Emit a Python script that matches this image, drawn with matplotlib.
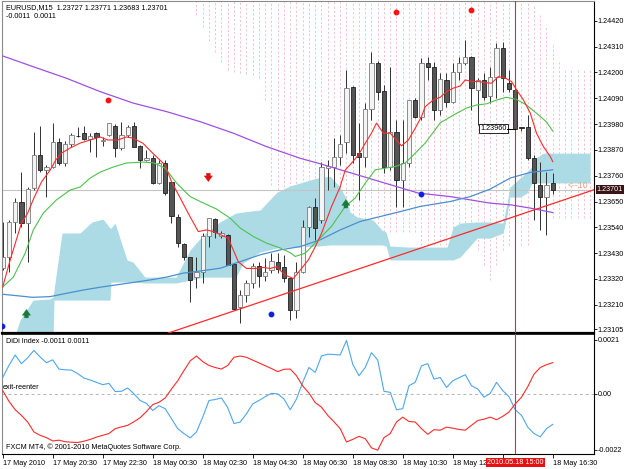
import numpy as np
import matplotlib.pyplot as plt
from matplotlib.patches import Rectangle
from matplotlib.transforms import blended_transform_factory

plt.rcParams['font.family'] = ['Liberation Sans', 'DejaVu Sans']

# ---------------- data (EURUSD M15, 17 May 2010 18:30 .. 18 May 16:30) ----------------
opens = [1.23367, 1.23413, 1.23563, 1.23648, 1.23558, 1.23707, 1.23848, 1.23784, 1.23797, 1.23903,
         1.23814, 1.23895, 1.23929, 1.23942, 1.23916, 1.23942, 1.23908, 1.23933, 1.23971, 1.23878,
         1.23933, 1.23971, 1.23886, 1.23827, 1.23835, 1.23729, 1.23814, 1.23733, 1.23584, 1.23469,
         1.23413, 1.23328, 1.23350, 1.23503, 1.23575, 1.23503, 1.23507, 1.23384, 1.23200, 1.23252,
         1.23303, 1.23375, 1.23332, 1.23358, 1.23392, 1.23371, 1.23324, 1.23188, 1.23350, 1.23541,
         1.23626, 1.23571, 1.23792, 1.23797, 1.23839, 1.23903, 1.24138, 1.23856, 1.23839, 1.24044,
         1.24240, 1.24121, 1.23797, 1.23946, 1.23741, 1.23814, 1.24082, 1.24010, 1.24240, 1.24223,
         1.24040, 1.24167, 1.24074, 1.24201, 1.24240, 1.24265, 1.24125, 1.24167, 1.24099, 1.24180,
         1.24304, 1.24155, 1.24125, 1.23967, 1.23967, 1.23835, 1.23720, 1.23669, 1.23727]
highs = [1.23563, 1.23571, 1.23665, 1.23775, 1.23712, 1.23946, 1.23971, 1.23805, 1.23984, 1.23920,
         1.23908, 1.23942, 1.23967, 1.23971, 1.23942, 1.23946, 1.23925, 1.23984, 1.23980, 1.23989,
         1.23976, 1.23989, 1.23891, 1.23869, 1.23848, 1.23827, 1.23827, 1.23737, 1.23597, 1.23473,
         1.23413, 1.23413, 1.23516, 1.23580, 1.23580, 1.23524, 1.23511, 1.23384, 1.23273, 1.23315,
         1.23388, 1.23392, 1.23409, 1.23430, 1.23430, 1.23422, 1.23324, 1.23392, 1.23571, 1.23631,
         1.23665, 1.23818, 1.23827, 1.23920, 1.23933, 1.24210, 1.24142, 1.23984, 1.24069, 1.24287,
         1.24248, 1.24146, 1.24223, 1.23997, 1.23997, 1.24082, 1.24091, 1.24261, 1.24265, 1.24244,
         1.24197, 1.24197, 1.24240, 1.24265, 1.24338, 1.24270, 1.24176, 1.24197, 1.24223, 1.24325,
         1.24329, 1.24210, 1.24133, 1.23967, 1.24018, 1.23848, 1.23818, 1.23775, 1.23771]
lows = [1.23358, 1.23350, 1.23516, 1.23541, 1.23392, 1.23699, 1.23775, 1.23669, 1.23792, 1.23805,
        1.23801, 1.23882, 1.23925, 1.23912, 1.23861, 1.23839, 1.23886, 1.23929, 1.23839, 1.23869,
        1.23925, 1.23882, 1.23792, 1.23822, 1.23724, 1.23724, 1.23678, 1.23560, 1.23456, 1.23401,
        1.23222, 1.23281, 1.23303, 1.23456, 1.23494, 1.23494, 1.23379, 1.23188, 1.23132, 1.23222,
        1.23281, 1.23286, 1.23311, 1.23345, 1.23345, 1.23307, 1.23145, 1.23154, 1.23345, 1.23499,
        1.23486, 1.23558, 1.23699, 1.23712, 1.23805, 1.23856, 1.23814, 1.23656, 1.23797, 1.23997,
        1.24082, 1.23771, 1.23784, 1.23626, 1.23626, 1.23797, 1.24006, 1.23997, 1.24167, 1.23997,
        1.24018, 1.24052, 1.24069, 1.24167, 1.24231, 1.24040, 1.23976, 1.24082, 1.24069, 1.24091,
        1.24116, 1.24116, 1.23955, 1.23950, 1.23827, 1.23571, 1.23528, 1.23507, 1.23683]
closes = [1.23413, 1.23563, 1.23648, 1.23558, 1.23703, 1.23848, 1.23784, 1.23797, 1.23903, 1.23814,
          1.23895, 1.23933, 1.23927, 1.23916, 1.23929, 1.23925, 1.23912, 1.23984, 1.23878, 1.23933,
          1.23967, 1.23882, 1.23827, 1.23835, 1.23729, 1.23814, 1.23686, 1.23588, 1.23473, 1.23413,
          1.23315, 1.23350, 1.23503, 1.23580, 1.23520, 1.23516, 1.23379, 1.23192, 1.23252, 1.23303,
          1.23375, 1.23332, 1.23350, 1.23396, 1.23362, 1.23324, 1.23188, 1.23350, 1.23541, 1.23626,
          1.23537, 1.23797, 1.23801, 1.23839, 1.23895, 1.24133, 1.23848, 1.23839, 1.24044, 1.24240,
          1.24116, 1.23797, 1.23946, 1.23741, 1.23814, 1.24082, 1.24010, 1.24240, 1.24223, 1.24040,
          1.24172, 1.24074, 1.24201, 1.24240, 1.24265, 1.24133, 1.24167, 1.24095, 1.24180, 1.24304,
          1.24176, 1.24129, 1.23960, 1.23963, 1.23835, 1.23729, 1.23669, 1.23720, 1.23701]

# moving averages (bar position, price)
red_ma_bar = [0, 1.2, 3, 4, 5, 6.2, 7.6, 8.5, 9.4, 10.8, 12.4, 14, 15.6, 16.8, 18.4, 19.8, 20.8, 22.4,
              24, 26, 27, 28.4, 30, 31.3, 32.6, 33.7, 35, 36.1, 36.9, 37.7, 39, 40.4, 41.7, 42.8, 43.8,
              45.2, 46.5, 48.9, 50, 51, 52.6, 54, 54.8, 55.8, 56.9, 58, 59, 59.8, 60.9, 62, 63.8, 64.9,
              66, 67, 67.6, 68.9, 70, 71, 72.1, 73.2, 74, 75, 76.1, 77.2, 78.2, 79.3, 80.4, 81.4, 82.2,
              83.3, 84.4, 85.4, 86.5, 87.6, 88]
red_ma_val = [1.23286, 1.23401, 1.23558, 1.23601, 1.23665, 1.23733, 1.23784, 1.23827, 1.23856, 1.23878,
              1.23899, 1.23912, 1.23925, 1.23912, 1.23912, 1.23925, 1.23920, 1.23899, 1.23856, 1.23805,
              1.23735, 1.23665, 1.23584, 1.23522, 1.23529, 1.23522, 1.23507, 1.23493, 1.23443, 1.23393,
              1.23365, 1.23365, 1.23369, 1.23365, 1.23372, 1.23337, 1.23322, 1.23401, 1.23457, 1.23514,
              1.23628, 1.23713, 1.23784, 1.23813, 1.23848, 1.23898, 1.23941, 1.23984, 1.23941, 1.23941,
              1.23887, 1.23912, 1.23962, 1.24012, 1.24054, 1.24083, 1.24094, 1.24118, 1.24133, 1.24142,
              1.24168, 1.24161, 1.24161, 1.24156, 1.24154, 1.24182, 1.24176, 1.24161, 1.24126, 1.24083,
              1.24027, 1.23941, 1.23884, 1.23842, 1.23820]
green_ma_bar = [0, 1.7, 3.6, 4.9, 6.5, 8.6, 10.8, 12.4, 14, 15.6, 17.7, 19.8, 22.5, 24.1, 26, 27.8, 30,
                31.6, 34.2, 36.4, 38, 40.1, 42.2, 44.4, 46, 46.8, 48.4, 50.5, 52.6, 54.8, 56.4, 58, 59.6,
                61.2, 62.8, 64.4, 66, 67.6, 70, 72.1, 74.2, 75.8, 77.4, 79, 80.6, 82.2, 83.8, 85.4, 87, 88]
green_ma_val = [1.23286, 1.23328, 1.23430, 1.23529, 1.23601, 1.23657, 1.23699, 1.23712, 1.23750, 1.23775,
                1.23797, 1.23814, 1.23818, 1.23815, 1.23792, 1.23729, 1.23671, 1.23650, 1.23618, 1.23579,
                1.23537, 1.23501, 1.23473, 1.23452, 1.23432, 1.23416, 1.23430, 1.23487, 1.23544, 1.23629,
                1.23665, 1.23728, 1.23785, 1.23792, 1.23799, 1.23814, 1.23856, 1.23899, 1.23985, 1.24018,
                1.24048, 1.24061, 1.24066, 1.24082, 1.24094, 1.24085, 1.24061, 1.24026, 1.23989, 1.23950]
blue_ma_bar = [0, 4.8, 7.6, 10.2, 12.9, 15.6, 18.2, 20.8, 23.6, 26.2, 28.9, 31.6, 34.8, 38, 41.2, 44.4,
               47.6, 50.8, 54, 57.2, 60.4, 63.6, 66.8, 71.6, 74.8, 78, 81.2, 84.4, 88]
blue_ma_val = [1.23255, 1.23242, 1.23245, 1.23259, 1.23273, 1.23285, 1.23295, 1.23305, 1.23316, 1.23328,
               1.23345, 1.23354, 1.23366, 1.23394, 1.23423, 1.23444, 1.23458, 1.23487, 1.23529, 1.23565,
               1.23586, 1.23607, 1.23629, 1.23650, 1.23671, 1.23703, 1.23750, 1.23774, 1.23785]
purple_ma_bar = [0, 4.9, 10.2, 15.6, 20.9, 26.2, 31.6, 36.9, 42.2, 47.6, 50.5, 55.8, 61.2, 66.5, 71.6,
                 74.8, 78, 81.2, 84.4, 88]
purple_ma_val = [1.24270, 1.24224, 1.24175, 1.24118, 1.24069, 1.24033, 1.23990, 1.23941, 1.23884, 1.23834,
                 1.23813, 1.23771, 1.23728, 1.23686, 1.23671, 1.23657, 1.23643, 1.23636, 1.23622, 1.23603]

# trend line anchors
trend_bars = [37, 88]
trend_prices = [1.23184, 1.23641]

# blue cloud outline (bar position, upper, lower)
cloud_bar = [1.97, 2.77, 4.85, 7.57, 8.05, 8.21, 9.49, 12.37, 14.29, 16.05, 17.17, 17.33, 17.97, 19.89,
             20.85, 22.77, 27.73, 29.97, 32.05, 34.77, 37.33, 38.45, 41.17, 43.89, 45.97, 47.57, 50.29,
             52.37, 53.97, 55.09, 55.57, 56.69, 59.25, 60.69, 61.33, 61.97, 65.17, 71.09, 72.05, 73.17,
             75.89, 77.97, 80.05, 80.69, 81.17, 82.77, 83.89, 84.85, 85.49, 86.45, 93.97]
cloud_top = [1.23080, 1.23145, 1.23230, 1.23235, 1.23243, 1.23273, 1.23516, 1.23516, 1.23563, 1.23575,
             1.23537, 1.23537, 1.23558, 1.23401, 1.23392, 1.23328, 1.23328, 1.23443, 1.23507, 1.23563,
             1.23601, 1.23605, 1.23614, 1.23690, 1.23716, 1.23729, 1.23750, 1.23758, 1.23712, 1.23656,
             1.23605, 1.23584, 1.23571, 1.23528, 1.23520, 1.23460, 1.23456, 1.23456, 1.23541, 1.23558,
             1.23563, 1.23563, 1.23558, 1.23643, 1.23712, 1.23750, 1.23775, 1.23805, 1.23839, 1.23856,
             1.23856]
cloud_bot = [1.23060, 1.23060, 1.23060, 1.23060, 1.23060, 1.23230, 1.23230, 1.23230, 1.23230, 1.23230,
             1.23230, 1.23307, 1.23307, 1.23307, 1.23307, 1.23303, 1.23303, 1.23315, 1.23328, 1.23328,
             1.23328, 1.23388, 1.23435, 1.23452, 1.23456, 1.23456, 1.23460, 1.23465, 1.23465, 1.23465,
             1.23465, 1.23465, 1.23465, 1.23465, 1.23460, 1.23401, 1.23401, 1.23401, 1.23401, 1.23413,
             1.23494, 1.23494, 1.23516, 1.23592, 1.23669, 1.23669, 1.23686, 1.23741, 1.23729, 1.23729,
             1.23729]

# pink dotted cloud, one column per bar
pink_bar = list(range(31, 95))
pink_top = [1.2452] * 54 + [1.24487, 1.24444, 1.24402, 1.24317, 1.24244, 1.24210, 1.24210, 1.24210,
                            1.24210, 1.24210]
pink_bot = [1.24444, 1.24393, 1.24334, 1.24287, 1.24244, 1.24210, 1.24201, 1.24197, 1.24193, 1.24189,
            1.24176, 1.24082, 1.23720, 1.23699, 1.23695, 1.23690, 1.23690, 1.23686, 1.23682, 1.23678,
            1.23660, 1.23620, 1.23563, 1.23528, 1.23520, 1.23520, 1.23520, 1.23520, 1.23520, 1.23520,
            1.23520, 1.23520, 1.23520, 1.23520, 1.23520, 1.23520, 1.23465, 1.23465, 1.23465, 1.23465,
            1.23465, 1.23465, 1.23465, 1.23469, 1.23473, 1.23443, 1.23379, 1.23315, 1.23379, 1.23443,
            1.23465, 1.23465, 1.23465, 1.23465, 1.23580, 1.23580, 1.23580, 1.23580, 1.23580, 1.23580,
            1.23580, 1.23580, 1.23580, 1.23580]

# signal marks
red_dot_bar = [16.8, 63, 75]
red_dot_price = [1.24082, 1.24458, 1.24466]
blue_dot_bar = [-0.1, 42.9, 66.9]
blue_dot_price = [1.23119, 1.23171, 1.23682]
up_arrow_bar = [3.8, 54.9]
up_arrow_price = [1.23190, 1.23658]
down_arrow_bar = [32.9]
down_arrow_price = [1.23735]

# DiDi index (units of 1e-4)
didi_blue = [6.3, 11.0, 15.1, 11.7, 14.0, 16.9, 14.3, 12.1, 13.2, 9.6, 9.3, 9.2, 7.8, 6.1, 5.3, 4.4,
             3.5, 4.0, 0.8, 0.9, 2.2, -0.1, -2.7, -3.8, -6.6, -4.7, -5.9, -9.8, -13.7, -15.6, -17.3,
             -15.0, -9.2, -2.7, -2.3, -1.7, -5.5, -11.7, -11.1, -7.9, -4.0, -2.7, -1.2, 0.1, -0.1, -2.1,
             -6.3, -2.1, 4.4, 10.2, 8.3, 14.7, 15.4, 15.3, 15.1, 20.8, 11.5, 7.0, 10.2, 16.0, 13.1, 0.9,
             0.5, -6.3, -5.9, 3.1, 4.4, 10.9, 11.7, 5.7, 6.3, 2.4, 5.0, 6.2, 7.4, 3.1, 1.8, -1.4, 0.1,
             4.4, 1.2, -1.2, -6.3, -8.5, -13.1, -15.6, -16.9, -13.7, -12.0]
didi_red = [1.2, -3.0, -6.3, -8.5, -11.1, -15.0, -16.3, -17.2, -18.5, -18.2, -18.8, -19.0, -19.1, -18.6,
            -17.9, -17.0, -16.3, -15.6, -13.7, -13.0, -12.4, -11.0, -9.4, -7.0, -4.3, -3.4, -1.7, 1.8,
            5.0, 9.0, 12.8, 14.7, 12.5, 11.0, 10.2, 9.6, 11.0, 14.2, 14.7, 14.2, 13.1, 12.0, 10.9, 9.8,
            8.6, 9.5, 9.6, 7.0, 3.0, 0.2, -3.5, -5.3, -8.5, -11.0, -13.7, -18.9, -17.9, -16.7, -17.6,
            -21.2, -22.1, -17.2, -15.6, -11.1, -9.2, -10.9, -11.1, -13.7, -15.9, -14.1, -14.3, -13.1,
            -13.5, -14.0, -14.3, -12.4, -10.5, -10.0, -9.2, -10.2, -8.9, -7.2, -4.0, -1.4, 2.7, 7.6,
            10.2, 11.3, 12.1]

price_ticks = [1.24420, 1.24310, 1.24200, 1.24090, 1.23980, 1.23870, 1.23760, 1.23650, 1.23540,
               1.23430, 1.23320, 1.23210, 1.23105]
# the 14:30 label sits under the red time marker box, so it is left blank
time_tick_bars = [0, 8, 16, 24, 32, 40, 48, 56, 64, 72, 80, 88]
time_tick_labels = ['17 May 2010', '17 May 20:30', '17 May 22:30', '18 May 00:30', '18 May 02:30',
                    '18 May 04:30', '18 May 06:30', '18 May 08:30', '18 May 10:30', '18 May 12:30',
                    '', '18 May 16:30']
last_price = 1.23701
marker_bar = 82

# ---------------- figure ----------------
W, H = 625, 469
fig = plt.figure(figsize=(W / 100, H / 100), dpi=100, facecolor='white')


def px_box(x0, y0, x1, y1):
    return [x0 / W, 1 - y1 / H, (x1 - x0) / W, (y1 - y0) / H]


ax = fig.add_axes(px_box(2, 1, 594, 333))
ax2 = fig.add_axes(px_box(2, 334, 594, 454), sharex=ax)

xmin, xmax = -0.11, 94.6
ax.set_xlim(xmin, xmax)
ax.set_ylim(1.23090, 1.24504)
ax2.set_ylim(-0.00236, 0.00233)

FS = 5.2

# pink dotted cloud
ax.vlines(pink_bar, pink_bot, pink_top, colors='#f5c2ca', lw=0.7,
          linestyles=(0, (2.2, 2.2)), zorder=1)
# blue cloud
ax.fill_between(cloud_bar, cloud_bot, cloud_top, color='#acdbe5', lw=0, zorder=1.2)

# candles
for i in range(len(opens)):
    o, h, l, c = opens[i], highs[i], lows[i], closes[i]
    bull = c >= o
    ax.vlines(i, l, h, colors='#303030', lw=0.7, zorder=2)
    lo, hi = min(o, c), max(o, c)
    if hi - lo < 0.00003:
        hi = lo + 0.00003
    ax.add_patch(Rectangle((i - 0.33, lo), 0.66, hi - lo,
                           facecolor='#f4f4f4' if bull else '#555555',
                           edgecolor='#7a7a7a' if bull else '#202020',
                           lw=0.6, zorder=2.2))

# moving averages
ax.plot(purple_ma_bar, purple_ma_val, color='#a050e0', lw=0.9, zorder=3)
ax.plot(blue_ma_bar, blue_ma_val, color='#4a8fd0', lw=0.9, zorder=3)
ax.plot(green_ma_bar, green_ma_val, color='#4cc24c', lw=0.8, zorder=3)
ax.plot(red_ma_bar, red_ma_val, color='#ff2a2a', lw=0.8, zorder=3.1)
ax.axline((trend_bars[0], trend_prices[0]), (trend_bars[1], trend_prices[1]),
          color='#ff2a2a', lw=0.9, zorder=3)

# bid line and current marker line
ax.axhline(last_price, color='#c4c4c4', lw=0.8, zorder=1.5)
ax.axvline(marker_bar, color='#ff2020', lw=0.8, zorder=3.2)
ax2.axvline(marker_bar, color='#ff2020', lw=0.8, zorder=3.2)

# signals
ax.plot(red_dot_bar, red_dot_price, 'o', color='#ff1010', ms=3.2, zorder=4)
ax.plot(blue_dot_bar, blue_dot_price, 'o', color='#1020e0', ms=3.2, zorder=4)
arrow_style = 'simple,head_length=0.45,head_width=0.65,tail_width=0.3'
for b, p in zip(up_arrow_bar, up_arrow_price):
    ax.annotate('', xy=(b, p), xycoords='data', xytext=(0, -6), textcoords='offset points',
                arrowprops=dict(arrowstyle=arrow_style, color='#1a7a3a', lw=0.3,
                                mutation_scale=9, shrinkA=0, shrinkB=0),
                zorder=4)
for b, p in zip(down_arrow_bar, down_arrow_price):
    ax.annotate('', xy=(b, p), xycoords='data', xytext=(0, 6), textcoords='offset points',
                arrowprops=dict(arrowstyle=arrow_style, color='#e01010', lw=0.3,
                                mutation_scale=9, shrinkA=0, shrinkB=0),
                zorder=4)

# price label of a line
ax.text(78.5, 1.23960, '1.23960', fontsize=FS, ha='center', va='center', zorder=5,
        bbox=dict(boxstyle='square,pad=0.15', fc='white', ec='black', lw=0.6))
ax.plot([80.7, 82], [1.23960, 1.23960], color='black', lw=0.7, zorder=5)
ax.text(90.4, 1.23718, '<--10', color='#e8a878', fontsize=6.3, ha='left', va='center', zorder=5)

# headers
ax.text(0.006, 0.979, 'EURUSD,M15  1.23727 1.23771 1.23683 1.23701', transform=ax.transAxes,
        fontsize=FS, va='center', ha='left')
ax.text(0.006, 0.952, '-0.0011  0.0011', transform=ax.transAxes, fontsize=FS, va='center', ha='left')

# axis styling (main)
ax.yaxis.tick_right()
ax.set_yticks(price_ticks)
ax.set_yticklabels(['%.5f' % t for t in price_ticks])
ax.tick_params(axis='y', length=2, width=0.6, pad=0.8, labelsize=FS, direction='out')
ax.tick_params(axis='x', bottom=False, labelbottom=False)
trans = blended_transform_factory(ax.transAxes, ax.transData)
ax.text(1.0045, last_price, '1.23701', transform=trans, fontsize=FS, color='white',
        ha='left', va='center', zorder=6, clip_on=False,
        bbox=dict(boxstyle='square,pad=0.1', fc='#3a1414', ec='none'))
for s in ['left', 'top']:
    ax.spines[s].set_color('#8a8a8a')
    ax.spines[s].set_linewidth(0.8)
ax.spines['right'].set_color('black')
ax.spines['right'].set_linewidth(0.8)
ax.spines['bottom'].set_color('black')
ax.spines['bottom'].set_linewidth(1.6)

# ---------------- DiDi panel ----------------
didi_x = np.arange(len(didi_blue))
ax2.axhline(0, color='#b4b4b4', lw=0.7, linestyle=(0, (3, 3)), zorder=1)
ax2.plot(didi_x, np.array(didi_blue) * 1e-4, color='#4ea6ee', lw=0.8, zorder=3)
ax2.plot(didi_x, np.array(didi_red) * 1e-4, color='#ff2a2a', lw=0.8, zorder=3)
ax2.text(0.006, 0.935, 'DiDi Index -0.0011 0.0011', transform=ax2.transAxes, fontsize=FS,
         va='center', ha='left')
ax2.text(0.001, 0.555, 'exit-reenter', transform=ax2.transAxes, fontsize=FS, va='center', ha='left')
ax2.text(0.006, 0.055, 'FXCM MT4, \u00a9 2001-2010 MetaQuotes Software Corp.', transform=ax2.transAxes,
         fontsize=FS, va='center', ha='left')

ax2.yaxis.tick_right()
ax2.set_yticks([0.0021, 0.0, -0.0022])
ax2.set_yticklabels(['0.0021', '0.00', '-0.0022'])
ax2.tick_params(axis='y', length=2, width=0.6, pad=0.8, labelsize=FS, direction='out')
ax2.set_xticks(time_tick_bars)
ax2.set_xticklabels(time_tick_labels)
ax2.tick_params(axis='x', length=3, width=0.6, pad=1.5, labelsize=FS, direction='out')
for lbl in ax2.get_xticklabels():
    lbl.set_ha('left')
ax2.text(marker_bar, -0.045, '2010.05.18 15:00',
         transform=blended_transform_factory(ax2.transData, ax2.transAxes),
         fontsize=FS, color='white', ha='center', va='top', zorder=10, clip_on=False,
         bbox=dict(boxstyle='square,pad=0.15', fc='#e81010', ec='none'))
ax2.spines['left'].set_color('#8a8a8a')
ax2.spines['left'].set_linewidth(0.8)
ax2.spines['top'].set_color('black')
ax2.spines['top'].set_linewidth(1.2)
ax2.spines['right'].set_color('black')
ax2.spines['right'].set_linewidth(0.8)
ax2.spines['bottom'].set_color('black')
ax2.spines['bottom'].set_linewidth(0.8)

fig.savefig('out.png', dpi=100, facecolor='white')
